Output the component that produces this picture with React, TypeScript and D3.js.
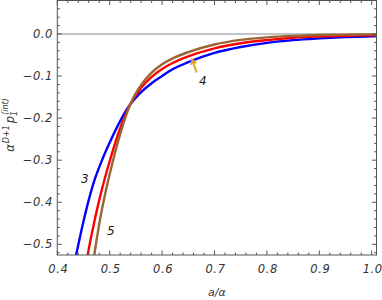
import React, { useEffect, useRef } from "react";
import * as d3 from "d3";

// sample points (x = a/alpha, y = alpha^(D+1) p)
const xs3 = [0.43, 0.436, 0.45, 0.469, 0.488, 0.5, 0.52, 0.54, 0.56, 0.58, 0.6, 0.62, 0.65, 0.7, 0.75, 0.8, 0.85, 0.9, 0.95, 1.0, 1.01];
const ys3 = [-0.56, -0.525, -0.445, -0.355, -0.292, -0.258, -0.207, -0.166, -0.138, -0.117, -0.1, -0.084, -0.067, -0.045, -0.031, -0.021, -0.0145, -0.0105, -0.0075, -0.0055, -0.005];

const xs4 = [0.452, 0.458, 0.47, 0.48, 0.5, 0.52, 0.54, 0.56, 0.58, 0.6, 0.62, 0.65, 0.7, 0.75, 0.8, 0.85, 0.9, 0.95, 1.0, 1.01];
const ys4 = [-0.57, -0.525, -0.45, -0.395, -0.302, -0.224, -0.166, -0.128, -0.102, -0.083, -0.069, -0.053, -0.034, -0.022, -0.0145, -0.009, -0.006, -0.004, -0.003, -0.003];

const xs5 = [0.466, 0.4706, 0.48, 0.49, 0.5, 0.52, 0.54, 0.56, 0.58, 0.6, 0.62, 0.65, 0.7, 0.75, 0.8, 0.85, 0.9, 0.95, 1.0, 1.01];
const ys5 = [-0.565, -0.525, -0.452, -0.388, -0.333, -0.238, -0.165, -0.121, -0.092, -0.072, -0.058, -0.043, -0.025, -0.014, -0.008, -0.0045, -0.0025, -0.0015, -0.001, -0.001];

const series = [
  { name: "3", xs: xs3, ys: ys3, color: "#0000ff" },
  { name: "4", xs: xs4, ys: ys4, color: "#ff0000" },
  { name: "5", xs: xs5, ys: ys5, color: "#996633" },
];

const xTicks = [0.4, 0.5, 0.6, 0.7, 0.8, 0.9, 1.0];
const yTicks = [0.0, -0.1, -0.2, -0.3, -0.4, -0.5];

export default function App() {
  const ref = useRef<SVGSVGElement>(null);

  useEffect(() => {
    if (!ref.current) return;
    const width = 382;
    const height = 300;
    const left = 57.3, right = 376.5, top = 0.5, bottom = 255;

    const svg = d3.select(ref.current);
    svg.selectAll("*").remove();

    const x = d3.scaleLinear().domain([0.4, 1.0]).range([left, left + 0.6 * 524]);
    const y = d3.scaleLinear().domain([0, -0.5]).range([34, 34 + 5 * 42.06]);
    const frameColor = "#555";
    const font = "'DejaVu Sans', sans-serif";

    svg.append("defs").append("clipPath").attr("id", "plot-clip")
      .append("rect")
      .attr("x", left).attr("y", top)
      .attr("width", right - left).attr("height", bottom - top);

    // zero line
    svg.append("line")
      .attr("x1", left).attr("x2", right)
      .attr("y1", y(0)).attr("y2", y(0))
      .attr("stroke", "#888").attr("stroke-width", 1.2);

    // curves
    const line = d3.line<[number, number]>()
      .x(d => x(d[0]))
      .y(d => y(d[1]))
      .curve(d3.curveMonotoneX);

    const g = svg.append("g").attr("clip-path", "url(#plot-clip)");
    series.forEach(s => {
      const pts = s.xs.map((v, i) => [v, s.ys[i]] as [number, number]);
      g.append("path")
        .attr("d", line(pts))
        .attr("fill", "none")
        .attr("stroke", s.color)
        .attr("stroke-width", 2.4);
    });

    // frame
    svg.append("rect")
      .attr("x", left).attr("y", top)
      .attr("width", right - left).attr("height", bottom - top)
      .attr("fill", "none").attr("stroke", frameColor).attr("stroke-width", 1);

    const ticks = svg.append("g").attr("stroke", frameColor).attr("stroke-width", 1);

    // x ticks, bottom and top
    d3.range(0, 31).forEach(i => {
      const v = 0.4 + i * 0.02;
      const major = i % 5 === 0;
      const len = major ? 4.5 : 2.5;
      const px = x(v);
      if (px > right) return;
      ticks.append("line").attr("x1", px).attr("x2", px).attr("y1", bottom).attr("y2", bottom - len);
      ticks.append("line").attr("x1", px).attr("x2", px).attr("y1", top).attr("y2", top + len);
    });

    // y ticks, left and right
    d3.range(-26, 5).forEach(i => {
      const v = i * 0.02;
      const major = i % 5 === 0;
      const len = major ? 4.5 : 2.5;
      const py = y(v);
      if (py < top || py > bottom) return;
      ticks.append("line").attr("y1", py).attr("y2", py).attr("x1", left).attr("x2", left + len);
      ticks.append("line").attr("y1", py).attr("y2", py).attr("x1", right).attr("x2", right - len);
    });

    // tick labels
    svg.append("g").selectAll("text").data(xTicks).join("text")
      .attr("x", d => x(d) + 1)
      .attr("y", 273)
      .attr("text-anchor", "middle")
      .attr("font-family", font).attr("font-size", 11.5).attr("font-style", "italic")
      .attr("letter-spacing", 0.6)
      .attr("fill", "#333")
      .text(d => d.toFixed(1));

    svg.append("g").selectAll("text").data(yTicks).join("text")
      .attr("x", 53)
      .attr("y", d => y(d) + 4)
      .attr("text-anchor", "end")
      .attr("font-family", font).attr("font-size", 11.5).attr("font-style", "italic")
      .attr("letter-spacing", 0.6)
      .attr("fill", "#333")
      .text(d => (d === 0 ? "0.0" : "\u2212" + Math.abs(d).toFixed(1)));

    // axis titles
    svg.append("text")
      .attr("x", (left + right) / 2).attr("y", 296)
      .attr("text-anchor", "middle")
      .attr("font-family", font).attr("font-size", 11).attr("fill", "#333")
      .attr("font-style", "italic")
      .text("a/\u03b1");

    const yl = svg.append("text")
      .attr("transform", "translate(14,125) rotate(-90)")
      .attr("text-anchor", "middle")
      .attr("font-family", font).attr("font-size", 11.5).attr("fill", "#333")
      .attr("font-style", "italic");
    yl.append("tspan").text("\u03b1");
    yl.append("tspan").attr("font-size", 8).attr("dy", -5).attr("dx", 1).text("D+1");
    yl.append("tspan").attr("dy", 5).attr("dx", 2).text("p");
    yl.append("tspan").attr("font-size", 8).attr("dy", 3).text("1");
    yl.append("tspan").attr("font-size", 8).attr("dy", -9).attr("dx", -4).text("(int)");

    // curve labels
    const labels = [
      { t: "3", px: 81, py: 183 },
      { t: "5", px: 107, py: 235 },
      { t: "4", px: 199, py: 85 },
    ];
    svg.append("g").selectAll("text").data(labels).join("text")
      .attr("x", d => d.px)
      .attr("y", d => d.py)
      .attr("font-family", font).attr("font-size", 12).attr("font-style", "italic")
      .attr("fill", "#222")
      .text(d => d.t);

    // arrow pointing at curve 4
    const ax1 = x(0.666), ay1 = y(-0.092);
    const ax2 = x(0.656), ay2 = y(-0.056);
    const ang = Math.atan2(ay2 - ay1, ax2 - ax1);
    const hl = 7, hw = 3.5;
    const bx = ax2 - hl * Math.cos(ang), by = ay2 - hl * Math.sin(ang);
    svg.append("line")
      .attr("x1", ax1).attr("y1", ay1).attr("x2", bx).attr("y2", by)
      .attr("stroke", "#e8a030").attr("stroke-width", 2);
    svg.append("path")
      .attr("d", `M${ax2},${ay2}L${bx + hw * Math.sin(ang)},${by - hw * Math.cos(ang)}L${bx - hw * Math.sin(ang)},${by + hw * Math.cos(ang)}Z`)
      .attr("fill", "#e8a030");

    svg.attr("width", width).attr("height", height);
  }, []);

  return (
    <svg
      ref={ref}
      width={382}
      height={300}
      style={{ position: "absolute", left: 0, top: 0, background: "#fff" }}
    />
  );
}
